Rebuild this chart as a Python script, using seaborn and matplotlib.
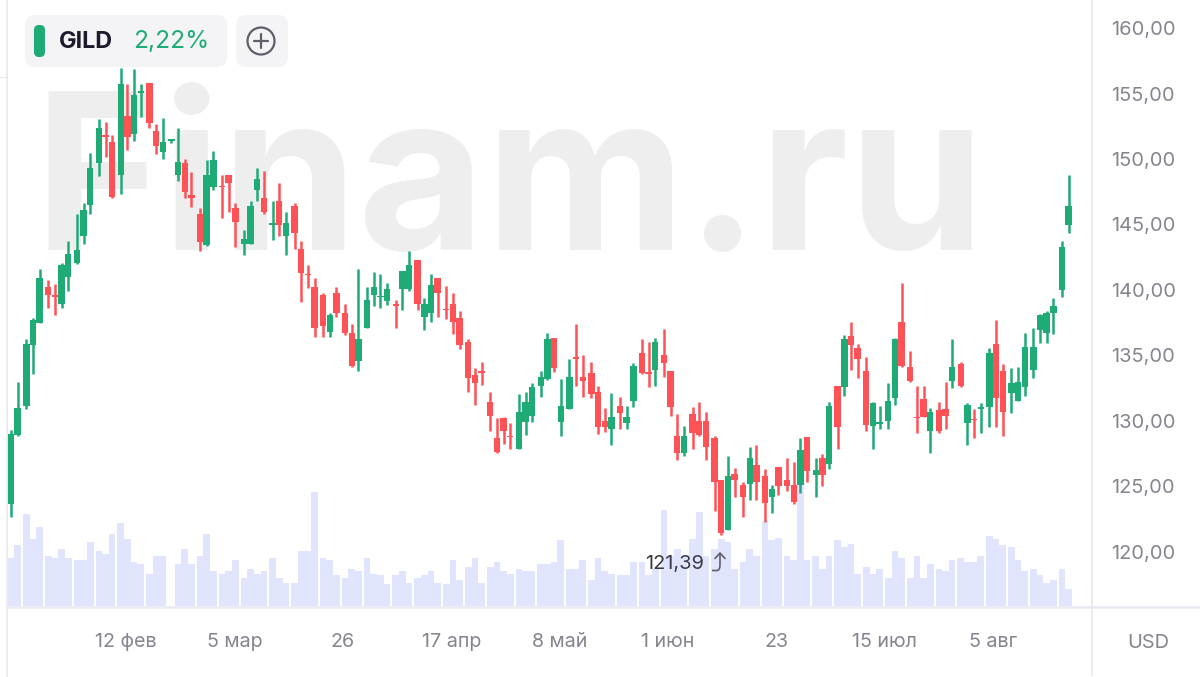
import numpy as np
import pandas as pd
import seaborn as sns
import matplotlib
matplotlib.use("Agg")
import matplotlib.pyplot as plt
from matplotlib.patches import FancyBboxPatch, Circle
from matplotlib.path import Path
from matplotlib.patches import PathPatch

# ---- data -------------------------------------------------------------
week_runs = [2,3,4,3,3,4,3,4,3,3,4,3,4,3,3,4,3,4,3,3,4,3,
             4,3,4,3,3,4,3,4,3,3,4,3,4,3,3,4,3,4,3,3,4,2]

opens = [
 123.64,128.93,131.15,135.80,137.46, 140.25,139.59,138.93,140.97, 142.09,144.15,146.49,
 149.72,151.81,151.30, 148.80,153.31,151.91,155.07, 155.83,152.14,150.54,
 151.35,148.78,149.67,147.25, 145.78,143.43,147.89, 147.97,148.78,146.29,
 143.51,143.49,147.63,147.00, 144.99,146.79,144.15,
 146.43,143.10,141.22,140.25, 139.61,136.76,139.74, 138.21,136.69,134.57,
 137.09,139.64,139.46,139.13, 138.90,140.10,140.10,
 142.29,137.91,138.26,140.91, 138.57,138.90,137.86, 136.05,133.51,133.81,
 131.47,128.67,130.20,128.85, 127.83,129.94,130.40,
 132.70,133.23,136.36,129.90, 130.92,134.86,133.34,
 133.69,132.19,129.98,129.37, 131.15,129.87,131.53, 135.17,133.72,133.90,
 135.07,133.84,128.86,127.53, 130.51,129.98,129.98,
 128.70,125.47,121.68,125.96, 125.09,125.17,126.64, 125.80,124.22,126.46,
 125.47,125.09,125.11,128.80, 125.84,127.14,126.71,
 132.67,132.56,136.51,135.54, 133.81,129.61,129.74, 130.02,131.75,137.53,
 134.14,130.32,131.67,129.20, 130.83,130.88,133.05,
 134.34,129.87,130.17,130.93, 131.09,135.87,133.81, 132.10,131.55,132.56,
 133.89,136.94,136.74,138.26, 139.99,144.98]

closes = [
 129.01,131.02,135.88,137.71,140.89, 139.62,139.44,141.91,142.75, 143.05,146.11,149.34,
 152.34,151.68,147.13, 155.73,151.71,154.86,155.22, 152.72,151.02,151.30,
 151.50,149.80,147.51,147.05, 143.66,148.78,149.92, 147.84,148.19,145.17,
 143.89,146.44,148.45,145.98, 145.13,144.96,145.09,
 144.32,141.27,141.14,137.12, 137.25,138.09,138.26, 136.69,134.22,136.23,
 139.23,140.25,139.56,140.05, 138.80,141.45,141.90,
 138.93,138.93,140.38,139.79, 138.47,137.58,135.80, 133.25,132.92,133.63,
 130.40,127.65,129.23,128.75, 130.65,131.47,132.61,
 133.34,136.24,134.07,131.15, 133.34,134.76,133.06,
 132.06,129.57,129.57,130.33, 130.59,130.33,134.20, 133.69,133.62,136.03,
 134.40,131.05,127.58,128.86, 129.06,128.91,128.04,
 125.37,121.48,125.80,125.50, 124.22,127.15,125.37, 123.72,124.78,125.06,
 125.06,123.84,127.78,126.20, 126.25,125.87,131.14,
 129.56,136.23,135.80,134.75, 129.69,131.39,129.94, 131.49,136.25,134.22,
 133.02,130.22,130.32,130.65, 129.20,130.37,134.14,
 132.66,131.19,130.07,131.04, 135.16,131.75,130.71, 132.92,133.00,135.67,
 135.67,138.06,138.21,138.77, 143.25,146.43]

highs = [
 129.32,133.00,136.24,137.84,141.58, 140.76,140.43,142.09,143.77, 145.78,146.62,150.49,
 153.03,152.83,151.83, 156.92,155.70,156.85,155.70, 155.83,152.67,153.16,
 151.50,152.34,149.98,148.98, 146.23,149.92,150.64, 148.78,148.78,146.62,
 144.58,146.77,149.34,149.11, 146.79,148.14,145.93,
 146.61,143.76,141.90,140.89, 139.74,138.21,140.25, 138.90,137.40,141.57,
 140.25,141.39,141.22,140.55, 139.23,141.45,142.95,
 142.29,139.36,141.22,140.91, 140.30,139.74,138.42, 136.23,134.01,134.52,
 132.18,130.20,130.32,129.81, 132.03,132.18,132.92,
 133.84,136.70,136.36,133.21, 134.71,137.41,135.04,
 134.51,132.67,131.02,132.17, 131.81,131.15,134.40, 136.24,136.03,136.36,
 137.05,133.84,130.51,129.65, 131.05,131.48,130.66,
 128.86,125.47,127.33,126.39, 125.34,127.99,128.14, 126.34,125.09,126.52,
 127.15,126.85,128.67,128.80, 127.14,127.47,131.47,
 132.67,136.56,137.53,135.87, 134.85,131.44,131.14, 132.87,136.36,140.55,
 135.36,132.67,132.67,130.96, 131.47,133.00,136.23,
 134.52,131.34,130.88,131.34, 135.54,137.70,134.34, 134.01,134.14,136.69,
 137.07,138.16,138.42,139.36, 143.76,148.77]

lows = [
 122.70,128.88,130.90,133.59,137.46, 138.60,138.09,138.60,139.95, 141.98,143.49,145.80,
 148.70,150.18,147.00, 147.30,150.69,151.35,153.18, 152.39,150.36,149.97,
 151.20,148.35,147.05,146.36, 143.00,143.36,147.63, 145.47,145.98,143.31,
 142.67,143.49,146.82,145.80, 143.82,144.15,142.67,
 143.12,139.10,140.12,136.43, 136.43,136.43,137.91, 136.56,134.09,133.84,
 137.09,138.80,138.59,138.82, 137.07,138.47,139.94,
 138.47,136.94,137.58,137.91, 137.75,136.61,135.46, 132.23,131.19,132.72,
 129.25,127.58,128.21,127.83, 127.83,128.90,129.92,
 131.86,133.13,133.74,128.86, 130.92,132.70,131.86,
 131.76,129.01,129.16,128.17, 129.37,129.37,131.05, 133.59,132.57,132.70,
 133.39,130.38,127.02,127.35, 127.84,128.86,127.02,
 123.16,121.30,121.68,124.22, 122.70,123.97,123.97, 122.32,122.95,124.35,
 124.68,123.66,124.50,125.36, 124.22,125.03,126.35,
 127.83,131.90,133.89,133.25, 129.23,127.83,129.36, 129.36,131.21,134.09,
 132.99,129.05,130.32,127.58, 129.10,129.36,132.54,
 132.56,128.16,128.72,129.05, 129.56,129.56,128.85, 130.58,131.55,131.90,
 133.25,135.92,135.92,136.61, 139.43,144.32]

volumes = [
 7.15,9.15, 13.85,10.1,11.85, 7.5,7.25,8.5,7.15, 6.9,6.9,9.6, 8.25,7.85,10.85,
 12.5,10.1,6.6,6.25, 4.85,7.5,7.5, 0,6.25,8.5,6.25, 7.5,10.85,5.25, 4.85,5.25,6.9,
 4.2,5.55,4.85,5.25, 7.25,4.2,3.5, 3.5,8.25,8.25,17.1, 7.25,6.9,4.6, 4.2,5.55,5.25,
 7.25,4.85,4.6,3.25, 4.6,5.25,3.5, 4.2,4.6,5.25,3.5, 3.25,6.9,3.9, 5.9,7.25,3.5,
 5.9,6.6,5.25,4.85, 5.55,5.25,5.25,
 6.25,6.25,6.6,9.85, 5.55,5.55,6.9, 3.9,7.25,5.25,4.85, 4.6,4.6,6.6, 6.6,4.6,5.5,
 14.4,7.5,8.5,7.5, 10.1,14.1,7.5, 8.5,10.1,9.6,5.55, 6.6,8.5,7.5, 12.75,9.85,10.25,
 7.5,6.9,18.3,6.9, 7.5,5.55,7.5, 9.85,8.9,9.25,4.85, 5.9,4.85,5.55, 4.2,8.25,7.15,
 4.2,7.5,4.2,6.25, 5.55,5.25,6.9, 7.25,6.6,6.6,7.5, 10.5,10.1,9.15, 8.85,6.9,5.25,
 5.55,4.6,3.5,3.9, 5.55,2.6]

price_ticks = [120, 125, 130, 135, 140, 145, 150, 155, 160]
price_labels = ["120,00","125,00","130,00","135,00","140,00","145,00","150,00","155,00","160,00"]
date_labels = ["12 фев","5 мар","26","17 апр","8 май","1 июн","23","15 июл","5 авг"]
ticker = "GILD"
change = "2,22%"
low_label = "121,39"
currency = "USD"
watermark = "Finam.ru"

# ---- style ------------------------------------------------------------
sns.set_theme(style="white")
plt.rcParams['font.family'] = ['Inter', 'Roboto', 'DejaVu Sans']

GREEN = "#1FAB76"
RED = "#FF5257"
VOL = "#6478F0"
GRID = "#E8E9F0"
TXT = "#85858F"

W, H = 1200, 677
fig = plt.figure(figsize=(W/100, H/100), dpi=100, facecolor="white")

# x positions: one step per session, a little more between weeks
x = []
pos = 0.0
for r in week_runs:
    for i in range(r):
        x.append(pos)
        pos += 1.0
    pos += 0.3
x = np.array(x)
UNIT = 6.656

bg = fig.add_axes([0, 0, 1, 1], zorder=0)
bg.set_xlim(0, W); bg.set_ylim(H, 0); bg.axis("off")
bg.text(34, 250, watermark, fontsize=158, fontweight="bold", color="#EEEEEE",
        va="baseline", ha="left", family=["Inter", "DejaVu Sans"])

ax = fig.add_axes([8/W, (H-606)/H, 1084/W, 606/H], zorder=1)
ax.patch.set_alpha(0)
xlim = (-3/UNIT, 1081/UNIT)
ylim = (120-54/13.1, 120+552/13.1)

df = pd.DataFrame({"x": x, "open": opens, "high": highs, "low": lows,
                   "close": closes, "volume": volumes})
df["up"] = df["close"] >= df["open"]
for up, col in ((True, GREEN), (False, RED)):
    d = df[df["up"] == up]
    ax.vlines(d["x"], d["low"], d["high"], color=col, lw=1.8, zorder=2)
    ax.bar(d["x"], (d["close"]-d["open"]).abs(), bottom=d[["open", "close"]].min(axis=1),
           width=0.96, color=col, linewidth=0, zorder=3)

vax = ax.twinx()
vax.set_zorder(2)
vax.patch.set_alpha(0)
sns.barplot(data=df, x="x", y="volume", native_scale=True, width=1.0, color=VOL,
            saturation=1, alpha=0.2, linewidth=0, ax=vax, errorbar=None)
vax.set_ylim(0, 606/6.67)
vax.set_xlabel(""); vax.set_ylabel("")
vax.set_yticks([])
vax.tick_params(length=0)
for s in vax.spines.values():
    s.set_visible(False)

ax.set_xlim(*xlim); ax.set_ylim(*ylim)
ax.yaxis.tick_right()
ax.set_yticks(price_ticks)
ax.set_yticklabels(price_labels, fontsize=14.4, color=TXT)
ax.set_xticks((126-11)/UNIT + np.arange(len(date_labels))*108.4/UNIT)
ax.set_xticklabels(date_labels, fontsize=14.2, color=TXT)
ax.xaxis.set_visible(True)
ax.tick_params(axis="y", length=0, pad=13.5, right=False, labelright=True, left=False, labelleft=False)
ax.tick_params(axis="x", length=0, pad=19.5)
ax.set_xlabel(""); ax.set_ylabel("")
for s in ax.spines.values():
    s.set_visible(False)

# overlay: frame lines, chips, annotation
ov = fig.add_axes([0, 0, 1, 1], zorder=3)
ov.set_xlim(0, W); ov.set_ylim(H, 0); ov.axis("off"); ov.patch.set_alpha(0)
ov.plot([7, 7], [0, 677], color=GRID, lw=1.2)
ov.plot([1092, 1092], [0, 675], color=GRID, lw=1.2)
ov.plot([7, 1200], [606.5, 606.5], color=GRID, lw=1.8)
ov.plot([0, 7], [77, 77], color=GRID, lw=0.8)

CHIP = "#F4F4F7"
ov.add_patch(FancyBboxPatch((25+10, 15+10), 202-20, 52-20, boxstyle="round,pad=10,rounding_size=10",
                            fc=CHIP, ec="none"))
ov.add_patch(FancyBboxPatch((236+10, 15+10), 52-20, 52-20, boxstyle="round,pad=10,rounding_size=10",
                            fc=CHIP, ec="none"))
ov.add_patch(FancyBboxPatch((34+4, 25+4), 11-8, 32-8, boxstyle="round,pad=4,rounding_size=5",
                            fc=GREEN, ec="none"))
ov.text(59, 41.5, ticker, fontsize=16.8, fontweight="bold", color="#1B1B2B", va="center", ha="left")
ov.text(133, 41.5, change, fontsize=17.7, color=GREEN, va="center", ha="left")
ov.add_patch(Circle((261, 41), 13.5, fc="none", ec="#5F5F6B", lw=1.6))
ov.plot([254, 268], [41, 41], color="#5F5F6B", lw=1.6)
ov.plot([261, 261], [34, 48], color="#5F5F6B", lw=1.6)

ov.text(645, 563.5, low_label, fontsize=14.4, color="#3A3A46", va="center", ha="left")
arrow = Path([(712, 570.5), (717, 570.5), (720, 570.5), (720, 565), (720, 553.5)],
             [Path.MOVETO, Path.LINETO, Path.CURVE3, Path.CURVE3, Path.LINETO])
ov.add_patch(PathPatch(arrow, fc="none", ec="#5F5F6B", lw=1.2))
ov.plot([715, 720, 725], [558.5, 553, 558.5], color="#5F5F6B", lw=1.2)

ov.text(1148, 642.5, currency, fontsize=14.4, color=TXT, va="center", ha="center")

fig.savefig("out.png", dpi=100, facecolor="white")
